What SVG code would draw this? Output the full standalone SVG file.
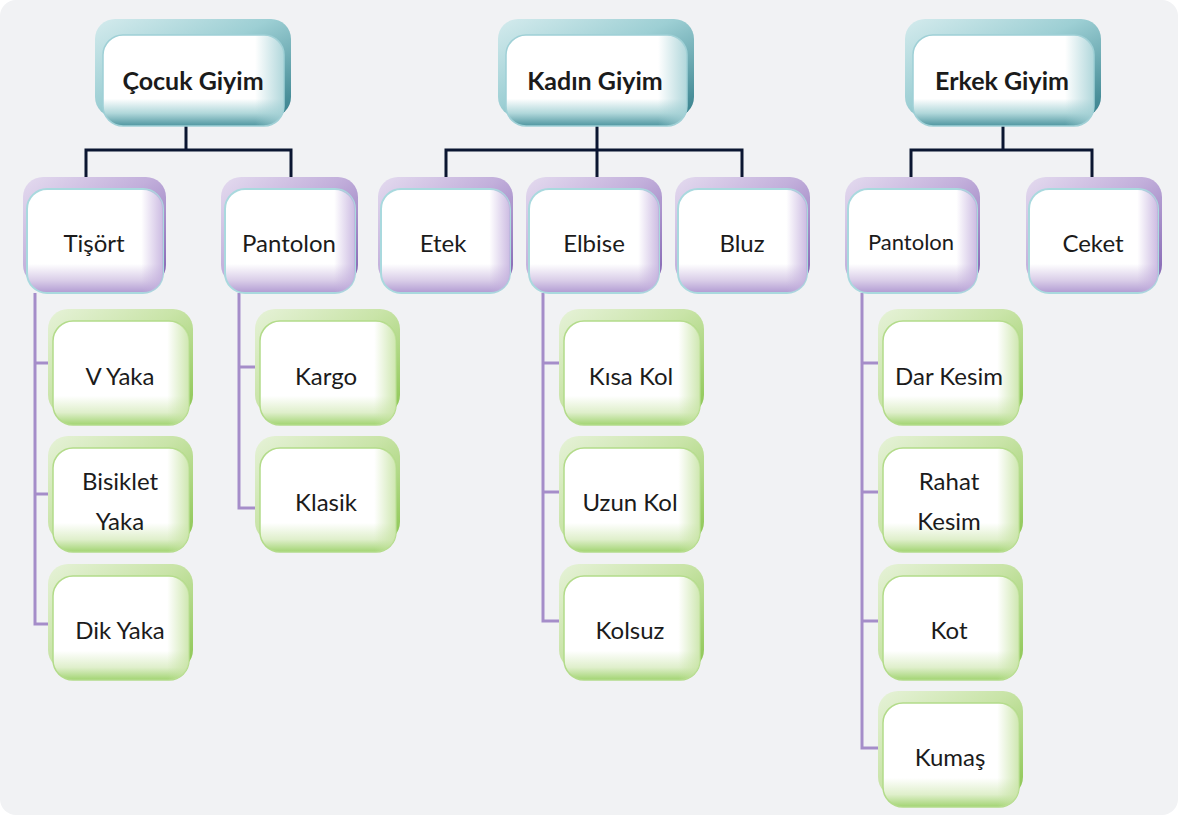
<svg xmlns="http://www.w3.org/2000/svg" width="1178" height="815" viewBox="0 0 1178 815">
<style>
  text{font-family:Lato,"Open Sans","Liberation Sans",sans-serif;font-size:24px;fill:#1b1b1b;text-anchor:middle}
  .b{font-weight:bold;font-size:25px}
  .bk{stroke:none}
  .frP{stroke:#a9d9de;stroke-width:2}
  .frG{stroke:#b3db8a;stroke-width:1.5}
  .frT{stroke:#9fd0d6;stroke-width:1.5}
  .lnD{stroke:#0b1631;stroke-width:3;fill:none}
  .lnP{stroke:#a58dc9;stroke-width:3;fill:none}
</style>
<defs>
  <linearGradient id="bT" x1="0" y1="0" x2="1" y2="1">
    <stop offset="0" stop-color="#d4ebed"/><stop offset="0.45" stop-color="#9dcfd4"/><stop offset="1" stop-color="#357f8b"/>
  </linearGradient>
  <linearGradient id="bP" x1="0" y1="0" x2="1" y2="1">
    <stop offset="0" stop-color="#e4dbef"/><stop offset="0.45" stop-color="#c2afdb"/><stop offset="1" stop-color="#8264b2"/>
  </linearGradient>
  <linearGradient id="bG" x1="0" y1="0" x2="1" y2="1">
    <stop offset="0" stop-color="#e6f2d8"/><stop offset="0.45" stop-color="#c9e4a8"/><stop offset="1" stop-color="#8cc652"/>
  </linearGradient>
  <linearGradient id="fT" x1="0" y1="0" x2="0" y2="1">
    <stop offset="0" stop-color="#fff"/><stop offset="0.7" stop-color="#fff"/><stop offset="0.86" stop-color="#b0d7da"/><stop offset="1" stop-color="#4f96a0"/>
  </linearGradient>
  <linearGradient id="fP" x1="0" y1="0" x2="0" y2="1">
    <stop offset="0" stop-color="#fff"/><stop offset="0.72" stop-color="#fff"/><stop offset="0.88" stop-color="#d9cde8"/><stop offset="1" stop-color="#b19bd2"/>
  </linearGradient>
  <linearGradient id="fG" x1="0" y1="0" x2="0" y2="1">
    <stop offset="0" stop-color="#fff"/><stop offset="0.72" stop-color="#fff"/><stop offset="0.88" stop-color="#dfefcb"/><stop offset="1" stop-color="#a2d472"/>
  </linearGradient>
  <linearGradient id="sP" x1="0" y1="0" x2="1" y2="0">
    <stop offset="0.84" stop-color="#c3afdd" stop-opacity="0"/><stop offset="1" stop-color="#c3afdd" stop-opacity="0.85"/>
  </linearGradient>
  <linearGradient id="sG" x1="0" y1="0" x2="1" y2="0">
    <stop offset="0.84" stop-color="#c6e3a2" stop-opacity="0"/><stop offset="1" stop-color="#c6e3a2" stop-opacity="0.85"/>
  </linearGradient>
  <linearGradient id="sT" x1="0" y1="0" x2="1" y2="0">
    <stop offset="0.84" stop-color="#a3d0d5" stop-opacity="0"/><stop offset="1" stop-color="#a3d0d5" stop-opacity="0.85"/>
  </linearGradient>
</defs>
<rect x="0" y="0" width="1178" height="815" fill="#ffffff"/>
<rect x="0" y="0" width="1178" height="815" rx="16" fill="#f1f2f4"/>

<g id="connectors">
  <path class="lnD" d="M186 125V150M86 178V150H291V178"/>
  <path class="lnD" d="M597 125V178M446 178V150H742V178"/>
  <path class="lnD" d="M1003 125V150M911 178V150H1092V178"/>
  <path class="lnP" d="M35 293V624H50M35 363H50M35 494H50"/>
  <path class="lnP" d="M239 293V508H257M239 367H257"/>
  <path class="lnP" d="M543 293V621H561M543 363H561M543 492H561"/>
  <path class="lnP" d="M862 293V748H880M862 363H880M862 492H880M862 621H880"/>
</g>

<!-- top level -->
<g id="cocuk">
  <rect class="bk" x="95" y="19" width="196" height="98" rx="20" fill="url(#bT)"/>
  <rect class="frT" x="103" y="35" width="181" height="91" rx="20" fill="url(#fT)"/>
  <rect x="103" y="35" width="181" height="91" rx="20" fill="url(#sT)"/>
  <text class="b" x="193" y="90">Çocuk Giyim</text>
</g>
<g id="kadin">
  <rect class="bk" x="498" y="19" width="196" height="98" rx="20" fill="url(#bT)"/>
  <rect class="frT" x="506" y="35" width="181" height="91" rx="20" fill="url(#fT)"/>
  <rect x="506" y="35" width="181" height="91" rx="20" fill="url(#sT)"/>
  <text class="b" x="595" y="90">Kadın Giyim</text>
</g>
<g id="erkek">
  <rect class="bk" x="905" y="19" width="196" height="98" rx="20" fill="url(#bT)"/>
  <rect class="frT" x="913" y="35" width="181" height="91" rx="20" fill="url(#fT)"/>
  <rect x="913" y="35" width="181" height="91" rx="20" fill="url(#sT)"/>
  <text class="b" x="1002" y="90">Erkek Giyim</text>
</g>

<!-- second level -->
<g id="tisort">
  <rect class="bk" x="23" y="177" width="143" height="108" rx="20" fill="url(#bP)"/>
  <rect class="frP" x="27" y="189" width="136" height="104" rx="20" fill="url(#fP)"/>
  <rect x="27" y="189" width="136" height="104" rx="20" fill="url(#sP)"/>
  <text x="94" y="252">Tişört</text>
</g>
<g id="pantolon-c">
  <rect class="bk" x="221" y="177" width="137" height="108" rx="20" fill="url(#bP)"/>
  <rect class="frP" x="225" y="189" width="130" height="104" rx="20" fill="url(#fP)"/>
  <rect x="225" y="189" width="130" height="104" rx="20" fill="url(#sP)"/>
  <text x="289" y="252">Pantolon</text>
</g>
<g id="etek">
  <rect class="bk" x="378" y="177" width="135" height="108" rx="20" fill="url(#bP)"/>
  <rect class="frP" x="381" y="189" width="129" height="104" rx="20" fill="url(#fP)"/>
  <rect x="381" y="189" width="129" height="104" rx="20" fill="url(#sP)"/>
  <text x="443" y="252">Etek</text>
</g>
<g id="elbise">
  <rect class="bk" x="526" y="177" width="136" height="108" rx="20" fill="url(#bP)"/>
  <rect class="frP" x="529" y="189" width="130" height="104" rx="20" fill="url(#fP)"/>
  <rect x="529" y="189" width="130" height="104" rx="20" fill="url(#sP)"/>
  <text x="594" y="252">Elbise</text>
</g>
<g id="bluz">
  <rect class="bk" x="675" y="177" width="135" height="108" rx="20" fill="url(#bP)"/>
  <rect class="frP" x="678" y="189" width="129" height="104" rx="20" fill="url(#fP)"/>
  <rect x="678" y="189" width="129" height="104" rx="20" fill="url(#sP)"/>
  <text x="742" y="252">Bluz</text>
</g>
<g id="pantolon-e">
  <rect class="bk" x="845" y="177" width="135" height="108" rx="20" fill="url(#bP)"/>
  <rect class="frP" x="848" y="189" width="129" height="104" rx="20" fill="url(#fP)"/>
  <rect x="848" y="189" width="129" height="104" rx="20" fill="url(#sP)"/>
  <text x="911" y="250" style="font-size:22px">Pantolon</text>
</g>
<g id="ceket">
  <rect class="bk" x="1026" y="177" width="136" height="108" rx="20" fill="url(#bP)"/>
  <rect class="frP" x="1029" y="189" width="129" height="104" rx="20" fill="url(#fP)"/>
  <rect x="1029" y="189" width="129" height="104" rx="20" fill="url(#sP)"/>
  <text x="1093" y="252">Ceket</text>
</g>

<!-- third level -->
<g id="vyaka">
  <rect class="bk" x="48" y="309" width="145" height="106" rx="20" fill="url(#bG)"/>
  <rect class="frG" x="53" y="321" width="136" height="104" rx="20" fill="url(#fG)"/>
  <rect x="53" y="321" width="136" height="104" rx="20" fill="url(#sG)"/>
  <text x="120" y="385">V Yaka</text>
</g>
<g id="bisiklet">
  <rect class="bk" x="48" y="436" width="145" height="106" rx="20" fill="url(#bG)"/>
  <rect class="frG" x="53" y="448" width="136" height="104" rx="20" fill="url(#fG)"/>
  <rect x="53" y="448" width="136" height="104" rx="20" fill="url(#sG)"/>
  <text x="120" y="490">Bisiklet</text>
  <text x="120" y="530">Yaka</text>
</g>
<g id="dikyaka">
  <rect class="bk" x="48" y="564" width="145" height="106" rx="20" fill="url(#bG)"/>
  <rect class="frG" x="53" y="576" width="136" height="104" rx="20" fill="url(#fG)"/>
  <rect x="53" y="576" width="136" height="104" rx="20" fill="url(#sG)"/>
  <text x="120" y="639">Dik Yaka</text>
</g>
<g id="kargo">
  <rect class="bk" x="255" y="309" width="145" height="106" rx="20" fill="url(#bG)"/>
  <rect class="frG" x="260" y="321" width="136" height="104" rx="20" fill="url(#fG)"/>
  <rect x="260" y="321" width="136" height="104" rx="20" fill="url(#sG)"/>
  <text x="326" y="385">Kargo</text>
</g>
<g id="klasik">
  <rect class="bk" x="255" y="436" width="145" height="106" rx="20" fill="url(#bG)"/>
  <rect class="frG" x="260" y="448" width="136" height="104" rx="20" fill="url(#fG)"/>
  <rect x="260" y="448" width="136" height="104" rx="20" fill="url(#sG)"/>
  <text x="326" y="511">Klasik</text>
</g>
<g id="kisakol">
  <rect class="bk" x="559" y="309" width="145" height="106" rx="20" fill="url(#bG)"/>
  <rect class="frG" x="564" y="321" width="136" height="104" rx="20" fill="url(#fG)"/>
  <rect x="564" y="321" width="136" height="104" rx="20" fill="url(#sG)"/>
  <text x="631" y="385">Kısa Kol</text>
</g>
<g id="uzunkol">
  <rect class="bk" x="559" y="436" width="145" height="106" rx="20" fill="url(#bG)"/>
  <rect class="frG" x="564" y="448" width="136" height="104" rx="20" fill="url(#fG)"/>
  <rect x="564" y="448" width="136" height="104" rx="20" fill="url(#sG)"/>
  <text x="630" y="511">Uzun Kol</text>
</g>
<g id="kolsuz">
  <rect class="bk" x="559" y="564" width="145" height="106" rx="20" fill="url(#bG)"/>
  <rect class="frG" x="564" y="576" width="136" height="104" rx="20" fill="url(#fG)"/>
  <rect x="564" y="576" width="136" height="104" rx="20" fill="url(#sG)"/>
  <text x="630" y="639">Kolsuz</text>
</g>
<g id="darkesim">
  <rect class="bk" x="878" y="309" width="145" height="106" rx="20" fill="url(#bG)"/>
  <rect class="frG" x="883" y="321" width="136" height="104" rx="20" fill="url(#fG)"/>
  <rect x="883" y="321" width="136" height="104" rx="20" fill="url(#sG)"/>
  <text x="949" y="385">Dar Kesim</text>
</g>
<g id="rahatkesim">
  <rect class="bk" x="878" y="436" width="145" height="106" rx="20" fill="url(#bG)"/>
  <rect class="frG" x="883" y="448" width="136" height="104" rx="20" fill="url(#fG)"/>
  <rect x="883" y="448" width="136" height="104" rx="20" fill="url(#sG)"/>
  <text x="949" y="490">Rahat</text>
  <text x="949" y="530">Kesim</text>
</g>
<g id="kot">
  <rect class="bk" x="878" y="564" width="145" height="106" rx="20" fill="url(#bG)"/>
  <rect class="frG" x="883" y="576" width="136" height="104" rx="20" fill="url(#fG)"/>
  <rect x="883" y="576" width="136" height="104" rx="20" fill="url(#sG)"/>
  <text x="949" y="639">Kot</text>
</g>
<g id="kumas">
  <rect class="bk" x="878" y="691" width="145" height="106" rx="20" fill="url(#bG)"/>
  <rect class="frG" x="883" y="703" width="136" height="104" rx="20" fill="url(#fG)"/>
  <rect x="883" y="703" width="136" height="104" rx="20" fill="url(#sG)"/>
  <text x="950" y="766">Kumaş</text>
</g>
</svg>
